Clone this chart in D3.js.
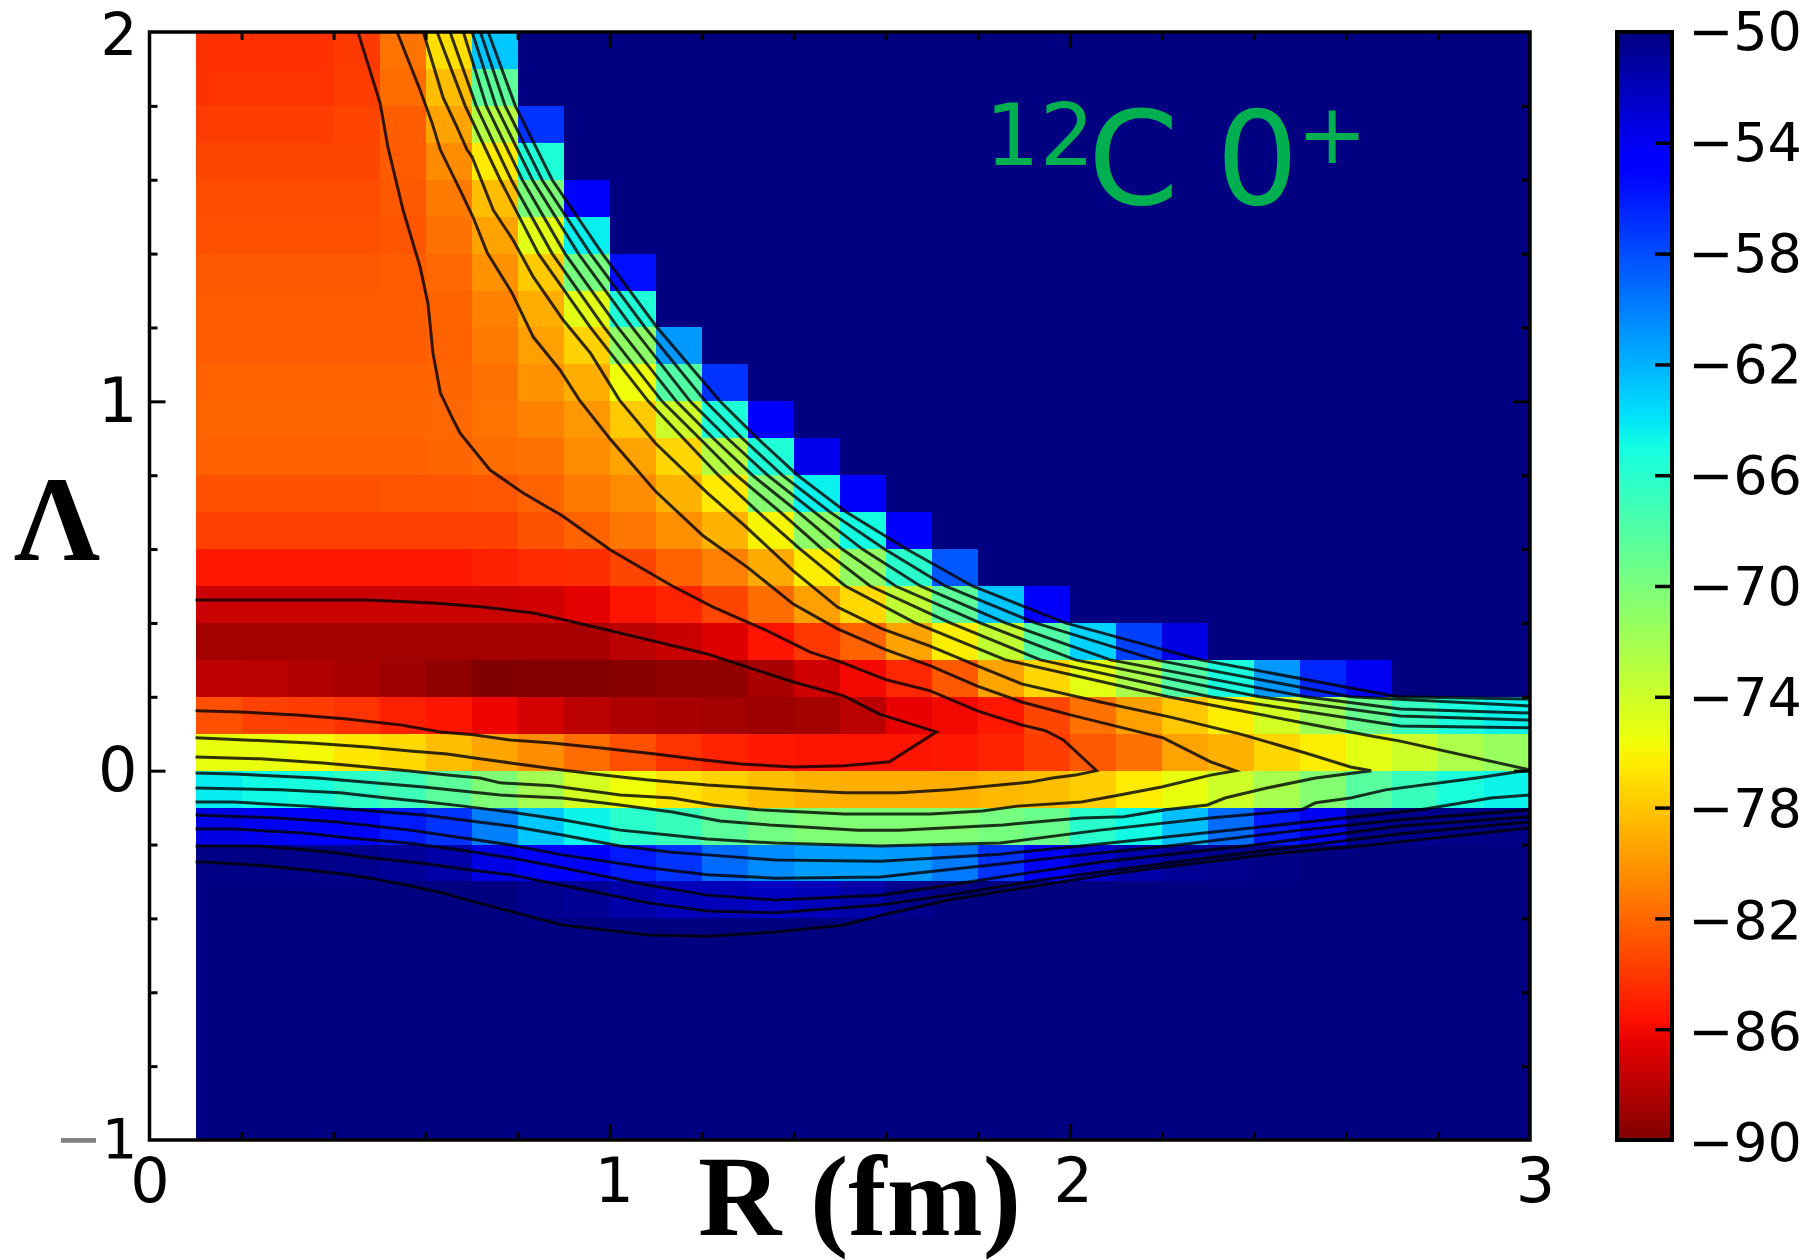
<!DOCTYPE html>
<html>
<head>
<meta charset="utf-8">
<script src="https://cdn.jsdelivr.net/npm/d3@7"></script>
<style>
  html,body{margin:0;padding:0;background:#fff}
  svg{display:block}
  text{font-family:"DejaVu Sans",sans-serif;fill:#000}
</style>
</head>
<body>
<svg id="chart" width="1808" height="1260"></svg>
<script>
// cell grid: columns start at R=0.1, rows start at Lambda=2 going down, step 0.1
const rStart = 0.1
const lambdaStart = 2
const gridStep = 0.1
const columnCount = 29
const rowCount = 30
const background = -50

// energy per cell, anything missing at the end of a row is background
const energy = [
  [-84.3,-84.3,-84.3,-83.9,-81.5,-77,-62.8],
  [-84.2,-84.2,-84.2,-83.8,-81.8,-78.4,-68.5],
  [-83.8,-83.8,-83.8,-83.5,-82.4,-79.5,-72.8,-57],
  [-83.4,-83.4,-83.4,-83.4,-82.5,-80.5,-76.5,-65.5],
  [-83.1,-83.1,-83.1,-83.1,-82.6,-81.2,-78.3,-70,-54.4],
  [-83,-83,-83,-83,-82.8,-81.6,-79.5,-75,-64.4],
  [-82.6,-82.6,-82.6,-82.6,-82.5,-82,-80.2,-77.8,-69.8,-55.5],
  [-82.5,-82.5,-82.5,-82.5,-82.4,-82.2,-80.9,-79,-75,-65.5],
  [-82.5,-82.5,-82.5,-82.5,-82.5,-82.2,-81.2,-79.6,-77.5,-71,-61],
  [-82.2,-82.2,-82.2,-82.2,-82.2,-82.1,-81.6,-80.2,-79,-75.6,-68,-57],
  [-82.1,-82.1,-82.1,-82.1,-82.1,-82,-81.5,-80.9,-80,-77.8,-74,-65.5,-54.4],
  [-82.3,-82.3,-82.3,-82.3,-82.3,-82.1,-81.8,-81.6,-80.5,-79.5,-77.3,-72.8,-65.5,-53.8],
  [-83,-83,-83,-83,-82.8,-82.8,-82.7,-82.2,-81.2,-80.5,-78.8,-76.5,-70.5,-64.5,-54.4],
  [-83.6,-83.6,-83.6,-83.6,-83.6,-83.6,-83.6,-82.9,-82.2,-81.4,-80.3,-78.8,-76,-71,-65,-54.4],
  [-85.3,-85.3,-85.3,-85.3,-85.3,-85.3,-85,-84.6,-84.4,-83.4,-82.2,-81,-79.2,-76.3,-71.2,-66,-58.4],
  [-87.4,-87.4,-87.4,-87.4,-87.4,-87.4,-87.4,-87.2,-86.5,-85.5,-84.9,-83.4,-81.8,-79.6,-77.2,-73.4,-68.5,-62.8,-54.4],
  [-88.8,-88.8,-88.8,-88.8,-88.8,-88.8,-88.8,-88.6,-88.6,-88,-87.5,-86.7,-85.5,-84,-82.2,-79.5,-76.3,-73.4,-68,-63.3,-57.5,-53.5],
  [-87.9,-88,-88.3,-88.6,-89,-89.4,-90,-89.9,-89.9,-89.8,-89.6,-89.4,-88.6,-87.3,-86,-84.7,-82.6,-79.5,-77.3,-75,-72.3,-68,-65.3,-61,-56.5,-54],
  [-83,-83.6,-83.8,-84.2,-85,-85.5,-86.2,-87.1,-88,-88.4,-88.6,-88.8,-89,-88.8,-88,-86.4,-86,-85.4,-83.4,-81.6,-79.6,-77.9,-76.3,-74.3,-71.8,-69,-66.7,-65.3,-64.5],
  [-75.3,-75.3,-75.8,-76.6,-77.2,-78.4,-79.4,-80.4,-81.8,-83,-84.2,-84.9,-85.3,-85.5,-85.5,-85.5,-85.3,-84.9,-83.8,-82.6,-81.6,-79.5,-78.8,-77.3,-76.3,-75,-74,-72.4,-71.4],
  [-64.3,-64.8,-65.2,-66.2,-67,-68.4,-70.2,-72,-74.3,-75.6,-76.8,-77.5,-78.3,-78.8,-79,-79,-79,-78.6,-78.3,-77.7,-76.4,-75.3,-74,-72.2,-70.5,-68.3,-66.8,-65.3,-64.6],
  [-53.5,-54,-54.5,-55,-56,-57,-60,-62.8,-64.6,-66,-66.8,-68.4,-69.6,-70.3,-70.3,-70.3,-70.3,-69.8,-69.2,-66,-64.8,-62.5,-59.2,-56,-54,-50.6,-50.4,-50.3,-50.2],
  [-50.2,-50.2,-50.3,-50.5,-50.8,-51.4,-53.5,-54.6,-55,-56,-57,-59.2,-60.5,-61.2,-61.2,-61,-59.8,-57,-54.5,-52.5,-51.5,-50.8,-50.4,-50.2],
  [-50,-50,-50,-50,-50,-50,-50,-50.5,-50.7,-51.4,-52,-52,-52.4,-52,-51.4,-50.5],
  [],[],[],[],[],[]
]

// contour lines as [R, Lambda], levels every 4 from -88 to -52
const contour88 = [[.1,.462],[.473,.462],[.616,.454],[.725,.443],[.834,.427],[.912,.405],[1.062,.361],[1.212,.316],[1.399,.24],[1.51,.202],[1.586,.153],[1.71,.105],[1.608,.024],[1.51,.013],[1.399,.01],[1.286,.018],[1.181,.032],[1.099,.045],[.986,.061],[.875,.075],[.784,.083],[.704,.097],[.632,.105],[.545,.124],[.429,.14],[.321,.151],[.197,.159],[.1,.162]]

const contour84 = [[.453,2],[.501,1.808],[.518,1.689],[.551,1.518],[.588,1.364],[.605,1.266],[.616,1.131],[.632,1.023],[.66,.95],[.675,.914],[.74,.814],[.812,.752],[.897,.69],[1.001,.598],[1.136,.5],[1.225,.443],[1.338,.381],[1.436,.321],[1.503,.294],[1.601,.246],[1.697,.216],[1.799,.162],[1.895,.124],[1.947,.108],[1.986,.083],[2.058,0],[2.012,-.012],[1.962,-.02],[1.914,-.031],[1.847,-.039],[1.736,-.052],[1.629,-.06],[1.51,-.06],[1.36,-.05],[1.212,-.039],[1.084,-.025],[.986,-.012],[.897,.002],[.784,.021],[.718,.032],[.647,.045],[.566,.053],[.473,.064],[.349,.075],[.16,.086],[.1,.089]]

const contour80 = [[.538,2],[.588,1.843],[.614,1.754],[.632,1.681],[.675,1.572],[.703,1.499],[.734,1.402],[.788,1.293],[.834,1.174],[.892,1.085],[.934,1.004],[1.001,.898],[1.099,.757],[1.203,.636],[1.301,.549],[1.399,.451],[1.495,.384],[1.601,.327],[1.697,.284],[1.799,.229],[1.895,.186],[2.001,.151],[2.203,.089],[2.306,.024],[2.36,0],[2.306,-.012],[2.199,-.044],[2.108,-.066],[2.025,-.085],[1.886,-.096],[1.81,-.109],[1.697,-.117],[1.51,-.117],[1.323,-.106],[1.225,-.093],[1.136,-.074],[1.023,-.066],[.875,-.041],[.762,-.033],[.718,-.02],[.647,-.012],[.56,0],[.473,.01],[.377,.021],[.24,.032],[.1,.037]]

const contour76 = [[.595,2],[.638,1.822],[.668,1.743],[.69,1.681],[.701,1.662],[.747,1.518],[.79,1.437],[.834,1.337],[.899,1.22],[.958,1.131],[1.021,1.004],[1.099,.887],[1.212,.752],[1.292,.665],[1.399,.541],[1.495,.443],[1.592,.384],[1.695,.338],[1.799,.284],[1.895,.235],[2.066,.186],[2.219,.145],[2.371,.099],[2.512,.048],[2.61,.01],[2.655,0],[2.534,-.02],[2.428,-.047],[2.337,-.074],[2.299,-.093],[2.208,-.106],[2.117,-.125],[2.025,-.128],[1.925,-.139],[1.855,-.147],[1.629,-.161],[1.54,-.161],[1.458,-.155],[1.347,-.147],[1.24,-.136],[1.136,-.112],[1.023,-.093],[.897,-.074],[.762,-.066],[.595,-.044],[.486,-.033],[.364,-.02],[.182,-.009],[.1,-.006]]

const contour72 = [[.625,2],[.686,1.8],[.762,1.6],[.845,1.4],[.958,1.2],[1.084,1],[1.16,.9],[1.236,.8],[1.323,.7],[1.414,.6],[1.512,.5],[1.664,.4],[1.86,.3],[2.214,.2],[2.655,.094],[2.718,.08],[3,.002],[2.884,-.02],[2.686,-.052],[2.61,-.074],[2.534,-.087],[2.503,-.106],[2.305,-.128],[2.066,-.161],[1.849,-.196],[1.588,-.204],[1.36,-.196],[1.212,-.185],[1.129,-.174],[1.023,-.161],[.897,-.133],[.784,-.112],[.682,-.096],[.603,-.085],[.516,-.074],[.414,-.06],[.284,-.052],[.1,-.047]]

const contour68Upper = [[.653,2],[.71,1.8],[.786,1.6],[.875,1.4],[.988,1.2],[1.114,1],[1.195,.9],[1.275,.8],[1.371,.7],[1.462,.6],[1.566,.5],[1.74,.4],[1.936,.3],[2.305,.2],[2.718,.121],[3,.116]]
const contour68Lower = [[3,-.066],[2.915,-.074],[2.824,-.093],[2.762,-.106],[2.025,-.204],[1.849,-.226],[1.588,-.245],[1.36,-.242],[1.212,-.228],[1.129,-.22],[1.023,-.204],[.897,-.174],[.784,-.15],[.595,-.12],[.451,-.106],[.342,-.096],[.182,-.085],[.1,-.085]]

const contour64Upper = [[.682,2],[.732,1.8],[.81,1.6],[.903,1.4],[1.018,1.2],[1.145,1],[1.225,.9],[1.31,.8],[1.41,.7],[1.505,.6],[1.621,.5],[1.805,.4],[2.012,.3],[2.412,.2],[2.718,.148],[3,.137]]
const contour64Lower = [[3,-.106],[2.718,-.133],[2.501,-.161],[2.215,-.204],[2.025,-.228],[1.849,-.253],[1.588,-.288],[1.36,-.291],[1.212,-.282],[1.084,-.263],[.897,-.228],[.784,-.201],[.566,-.161],[.486,-.15],[.408,-.139],[.278,-.128],[.1,-.12]]

const contour60Upper = [[.701,2],[.753,1.8],[.832,1.6],[.932,1.4],[1.049,1.2],[1.175,1],[1.256,.9],[1.343,.8],[1.445,.7],[1.549,.6],[1.675,.5],[1.86,.4],[2.088,.3],[2.512,.2],[2.718,.167],[3,.156]]
const contour60Lower = [[3,-.125],[2.718,-.15],[2.382,-.204],[2.066,-.247],[1.849,-.288],[1.736,-.31],[1.588,-.337],[1.36,-.35],[1.212,-.337],[1.084,-.31],[.897,-.263],[.784,-.236],[.675,-.215],[.56,-.196],[.436,-.182],[.334,-.169],[.182,-.158],[.1,-.158]]

const contour56Upper = [[.719,2],[.773,1.8],[.853,1.6],[.958,1.4],[1.077,1.2],[1.208,1],[1.288,.9],[1.375,.8],[1.479,.7],[1.597,.6],[1.729,.5],[1.925,.4],[2.186,.3],[2.61,.2],[3,.175]]
const contour56Lower = [[3,-.139],[2.718,-.171],[2.503,-.204],[2.197,-.253],[1.936,-.296],[1.736,-.337],[1.588,-.364],[1.36,-.385],[1.212,-.38],[1.084,-.358],[.897,-.31],[.784,-.282],[.697,-.269],[.588,-.25],[.479,-.236],[.408,-.223],[.342,-.215],[.24,-.204],[.1,-.204]]

const contour52Upper = [[.736,2],[.795,1.8],[.875,1.6],[.984,1.4],[1.103,1.2],[1.24,1],[1.321,.9],[1.408,.8],[1.514,.7],[1.645,.6],[1.788,.5],[1.99,.4],[2.284,.3],[2.712,.2],[3,.194]]
const contour52Lower = [[.1,-.247],[.125,-.247],[.255,-.258],[.342,-.269],[.42,-.28],[.479,-.291],[.56,-.31],[.638,-.331],[.675,-.345],[.897,-.418],[1.084,-.445],[1.212,-.448],[1.36,-.437],[1.51,-.418],[1.586,-.393],[1.736,-.35],[1.936,-.31],[2.077,-.282],[2.192,-.263],[2.458,-.223],[2.61,-.207],[3,-.155]]

const contourLines = [contour88,contour84,contour80,contour76,contour72,
  contour68Upper,contour68Lower,contour64Upper,contour64Lower,
  contour60Upper,contour60Lower,contour56Upper,contour56Lower,
  contour52Upper,contour52Lower]

const rMajorTicks = [0,1,2,3]
const rMinorTicks = [.2,.4,.6,.8,1.2,1.4,1.6,1.8,2.2,2.4,2.6,2.8]
const lambdaMajorTicks = [-1,0,1,2]
const lambdaMinorTicks = [-.8,-.6,-.4,-.2,.2,.4,.6,.8,1.2,1.4,1.6,1.8]
const colorTicks = [-54,-58,-62,-66,-70,-74,-78,-82,-86]
const colorLabels = [-50,-54,-58,-62,-66,-70,-74,-78,-82,-86,-90]

// jet, from the top of the colour bar (-50) to the bottom (-90)
const jetValues = [-50,-54.4,-55,-63.6,-64,-65,-75.6,-76,-76.4,-85.6,-86.4,-90]
const jetColors = ["#000080","#0000ff","#0000ff","#00dbff","#00e5f7","#14ffe2","#eeff08","#f7f500","#ffec00","#ff1200","#e80000","#800000"]

const svg = d3.select("#chart")
const color = d3.scaleLinear().domain(jetValues).range(jetColors).clamp(true)

const x = d3.scaleLinear().domain([0,3]).range([149.5,1530])
const y = d3.scaleLinear().domain([-1,2]).range([1140,32])
const barY = d3.scaleLinear().domain([-50,-90]).range([32,1140])
const barLabelY = d3.scaleLinear().domain([-50,-90]).range([32,1143])

svg.append("clipPath").attr("id","plotClip").append("rect")
  .attr("x",x(0)).attr("y",y(2)).attr("width",x(3)-x(0)).attr("height",y(-1)-y(2))

// heat map
const cells = []
d3.range(rowCount).forEach(row=>{
  d3.range(columnCount).forEach(col=>{
    const value = energy[row][col]
    cells.push({
      r:rStart+col*gridStep,
      lambda:lambdaStart-row*gridStep,
      value:value===undefined?background:value
    })
  })
})

svg.append("g").attr("shape-rendering","crispEdges").selectAll("rect").data(cells).join("rect")
  .attr("x",d=>Math.round(x(d.r)))
  .attr("y",d=>Math.round(y(d.lambda)))
  .attr("width",d=>Math.round(x(d.r+gridStep))-Math.round(x(d.r)))
  .attr("height",d=>Math.round(y(d.lambda-gridStep))-Math.round(y(d.lambda)))
  .attr("fill",d=>color(d.value))

// contours
const contourPath = d3.line().x(d=>x(d[0])).y(d=>y(d[1]))
svg.append("g").attr("clip-path","url(#plotClip)").selectAll("path").data(contourLines).join("path")
  .attr("d",contourPath)
  .attr("fill","none")
  .attr("stroke","#000")
  .attr("stroke-width",3)
  .attr("stroke-opacity",0.8)

// inward ticks on all four sides, labels only on bottom and left
function addTicks(axis, transform, values, size){
  const g = svg.append("g").attr("transform",transform)
    .call(axis.tickValues(values).tickSize(-size).tickFormat(""))
  g.select(".domain").remove()
  g.selectAll("line").attr("stroke","#000").attr("stroke-width",3)
  return g
}
const atBottom = "translate(0,"+y(-1)+")"
const atTop = "translate(0,"+y(2)+")"
const atLeft = "translate("+x(0)+",0)"
const atRight = "translate("+x(3)+",0)"
addTicks(d3.axisBottom(x),atBottom,rMinorTicks,8)
addTicks(d3.axisTop(x),atTop,rMinorTicks,8)
addTicks(d3.axisBottom(x),atBottom,rMajorTicks.slice(1,3),16)
addTicks(d3.axisTop(x),atTop,rMajorTicks.slice(1,3),16)
addTicks(d3.axisLeft(y),atLeft,lambdaMinorTicks,8)
addTicks(d3.axisRight(y),atRight,lambdaMinorTicks,8)
addTicks(d3.axisLeft(y),atLeft,lambdaMajorTicks.slice(1,3),16)
addTicks(d3.axisRight(y),atRight,lambdaMajorTicks.slice(1,3),16)

const xLabels = svg.append("g").attr("transform",atBottom)
  .call(d3.axisBottom(x).tickValues(rMajorTicks).tickSize(0).tickPadding(18).tickFormat(d3.format("d")))
xLabels.select(".domain").remove()
xLabels.selectAll("text").attr("font-size",62).attr("dx",(d,i)=>[0,4,3,5][i])

const yLabels = svg.append("g").attr("transform",atLeft)
  .call(d3.axisLeft(y).tickValues(lambdaMajorTicks).tickSize(0).tickPadding(12).tickFormat(d3.format("d")))
yLabels.select(".domain").remove()
yLabels.selectAll("text").attr("font-size",62)
// the top label sits against the page edge
yLabels.selectAll("text").filter(d=>d===2).attr("font-size",58).attr("dy","0.38em")
// the -1 label is smaller in the figure, with a grey minus
yLabels.selectAll("text").filter(d=>d===-1).each(function(){
  const label = d3.select(this).attr("font-size",56).text(null)
  label.append("tspan").style("fill","#808080").text("\u2212")
  label.append("tspan").text("1")
})

// frame
svg.append("rect")
  .attr("x",x(0)).attr("y",y(2))
  .attr("width",x(3)-x(0)).attr("height",y(-1)-y(2))
  .attr("fill","none").attr("stroke","#000").attr("stroke-width",3.5)

// axis titles
svg.append("text").attr("x",698).attr("y",1235).text("R (fm)")
  .attr("textLength",323).attr("lengthAdjust","spacingAndGlyphs")
  .style("font-family","'Liberation Serif',serif").style("font-weight","bold").style("font-size","114px")
svg.append("text").attr("x",14).attr("y",560).text("\u039b")
  .style("font-family","'Liberation Serif',serif").style("font-weight","bold").style("font-size","120px")

// annotation
const noteColor = "#00b050"
const noteParts = [
  {text:"12",x:985,y:165,size:86},
  {text:"C",x:1088,y:204,size:130},
  {text:"0",x:1216,y:204,size:130},
  {text:"+",x:1297,y:163,size:84}
]
svg.append("g").selectAll("text").data(noteParts).join("text")
  .attr("x",d=>d.x).attr("y",d=>d.y).attr("font-size",d=>d.size)
  .style("fill",noteColor).text(d=>d.text)

// colour bar
const gradient = svg.append("defs").append("linearGradient")
  .attr("id","jetBar").attr("x1",0).attr("x2",0).attr("y1",0).attr("y2",1)
gradient.selectAll("stop").data(jetValues).join("stop")
  .attr("offset",d=>(barY(d)-barY(-50))/(barY(-90)-barY(-50)))
  .attr("stop-color",d=>color(d))

svg.append("rect")
  .attr("x",1617).attr("y",barY(-50)).attr("width",55).attr("height",barY(-90)-barY(-50))
  .attr("fill","url(#jetBar)").attr("stroke","#000").attr("stroke-width",4)

const barTicks = svg.append("g").attr("transform","translate(1670,0)")
  .call(d3.axisLeft(barY).tickValues(colorTicks).tickSizeInner(15).tickSizeOuter(0).tickFormat(""))
barTicks.select(".domain").remove()
barTicks.selectAll("line").attr("stroke","#000").attr("stroke-width",3.5)

const barLabels = svg.append("g").attr("transform","translate(1688,0)")
  .call(d3.axisRight(barLabelY).tickValues(colorLabels).tickSize(0).tickPadding(0).tickFormat(d3.format("d")))
barLabels.select(".domain").remove()
barLabels.selectAll("text").attr("font-size",54)
</script>
</body>
</html>
